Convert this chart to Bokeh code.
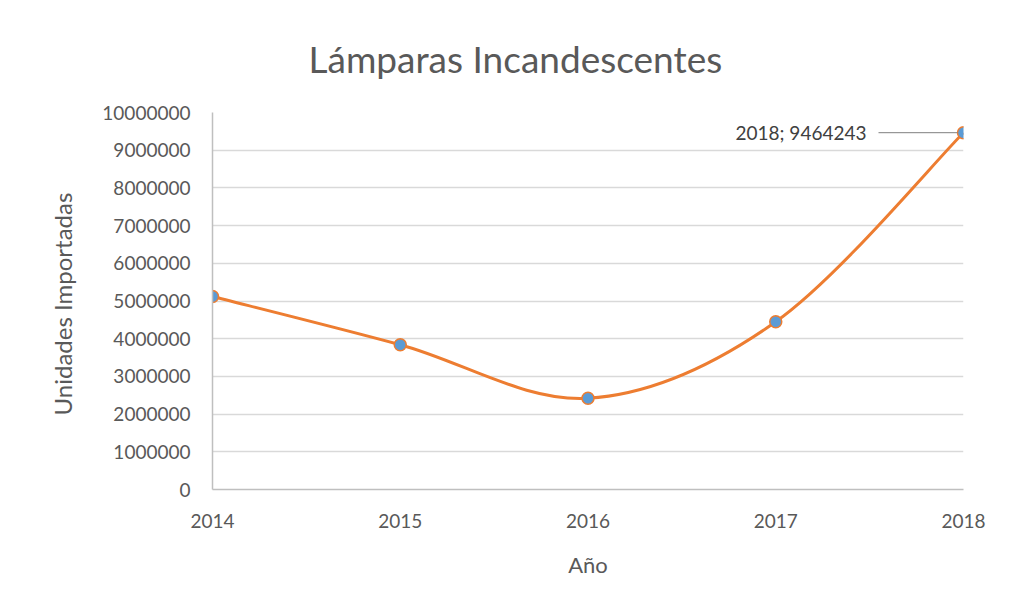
from bokeh.plotting import figure
from bokeh.models import Range1d, FixedTicker, Label, NumeralTickFormatter
from bokeh.embed import file_html
from bokeh.resources import INLINE

years = [2014, 2015, 2016, 2017, 2018]
units = [5120000, 3840000, 2420000, 4450000, 9464243]
y_ticks = list(range(0, 10000001, 1000000))
title_text = "Lámparas Incandescentes"
x_label = "Año"
y_label = "Unidades  Importadas"
data_label = "2018; 9464243"

FONT = "Lato"
TXT = "#595959"
ORANGE = "#ED7D31"
BLUE = "#5B9BD5"
GRID = "#D9D9D9"

W, H = 994, 594
ML, MR, MT, MB = 212, 31, 112, 105

p = figure(width=W, height=H, output_backend="svg", toolbar_location=None,
           x_range=Range1d(2014, 2018), y_range=Range1d(0, 10000000),
           min_border_left=ML, min_border_right=MR, min_border_top=MT, min_border_bottom=MB,
           title=title_text)
p.title.align = "left"
p.title.offset = 96
p.title.text_font = FONT
p.title.text_font_size = "37px"
p.title.text_font_style = "normal"
p.title.text_color = TXT
p.title.standoff = 63
p.outline_line_color = None

p.xaxis.ticker = FixedTicker(ticks=years)
p.yaxis.ticker = FixedTicker(ticks=y_ticks)
p.yaxis.formatter = NumeralTickFormatter(format="0")
for ax in (p.xaxis, p.yaxis):
    ax.major_tick_line_color = None
    ax.minor_tick_line_color = None
    ax.axis_line_color = "#BFBFBF"
    ax.axis_line_width = 1.5
    ax.major_label_text_font = FONT
    ax.major_label_text_font_size = "19px"
    ax.major_label_text_color = TXT
    ax.axis_label_text_font = FONT
    ax.axis_label_text_font_size = "22px"
    ax.axis_label_text_font_style = "normal"
    ax.axis_label_text_color = TXT
p.yaxis.axis_label_text_font_size = "24px"
p.xaxis.axis_label = x_label
p.yaxis.axis_label = y_label
p.xaxis.major_label_standoff = 18
p.yaxis.major_label_standoff = 16
p.xaxis.axis_label_standoff = 20
p.yaxis.axis_label_standoff = 22
p.xgrid.grid_line_color = None
p.ygrid.grid_line_color = GRID
p.ygrid.grid_line_width = 1.5

# smoothed line (Catmull-Rom style bezier segments, as Excel's smoothed line)
n = len(years)
x0s, y0s, x1s, y1s, cx0s, cy0s, cx1s, cy1s = [], [], [], [], [], [], [], []
for i in range(n - 1):
    pa = (years[max(i - 1, 0)], units[max(i - 1, 0)])
    p1 = (years[i], units[i])
    p2 = (years[i + 1], units[i + 1])
    pb = (years[min(i + 2, n - 1)], units[min(i + 2, n - 1)])
    x0s.append(p1[0]); y0s.append(p1[1])
    x1s.append(p2[0]); y1s.append(p2[1])
    cx0s.append(p1[0] + (p2[0] - pa[0]) / 6); cy0s.append(p1[1] + (p2[1] - pa[1]) / 6)
    cx1s.append(p2[0] - (pb[0] - p1[0]) / 6); cy1s.append(p2[1] - (pb[1] - p1[1]) / 6)
p.bezier(x0=x0s, y0=y0s, x1=x1s, y1=y1s, cx0=cx0s, cy0=cy0s, cx1=cx1s, cy1=cy1s,
         line_color=ORANGE, line_width=3)
p.scatter(years, units, size=12, fill_color=BLUE, line_color=ORANGE, line_width=1.5)

# data label with leader line
frame_w = W - ML - MR
px_per_year = frame_w / (years[-1] - years[0])
p.segment(x0=[years[-1] - 85 / px_per_year], y0=[units[-1]], x1=[years[-1] - 6 / px_per_year], y1=[units[-1]],
          line_color="#7F7F7F", line_width=1)
p.add_layout(Label(x=years[-1], y=units[-1], x_offset=-97, text=data_label, text_align="right",
                   text_baseline="middle", text_font=FONT, text_font_size="19px", text_color="#404040"))

open("out.html", "w").write(file_html(p, INLINE))
